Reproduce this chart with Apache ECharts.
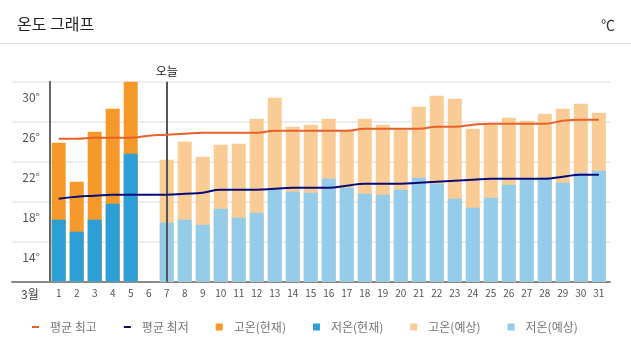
<!DOCTYPE html>
<html>
<head>
<meta charset="utf-8">
<script src="https://cdn.jsdelivr.net/npm/echarts@6/dist/echarts.min.js"></script>
<style>
  html, body { margin: 0; padding: 0; background: #fff; }
  #chart { width: 631px; height: 358px; }
</style>
</head>
<body>
<div id="chart"></div>
<script>
// ---- data ----
const chartTitle = '온도 그래프';
const unitLabel = '℃';
const monthLabel = '3월';
const todayLabel = '오늘';
const todayDay = '7';
const days = ['1','2','3','4','5','6','7','8','9','10','11','12','13','14','15','16','17','18','19','20','21','22','23','24','25','26','27','28','29','30','31'];
const seriesNames = ['평균 최고', '평균 최저', '고온(현재)', '저온(현재)', '고온(예상)', '저온(예상)'];
// observed (days 1-5), day 6 missing
const highCurrent = [23.9, 20.0, 25.0, 27.3, 30.0];
const lowCurrent  = [16.2, 15.0, 16.2, 17.8, 22.8];
// forecast (days 7-31)
const highForecast = [22.2, 24.0, 22.5, 23.7, 23.8, 26.3, 28.4, 25.5, 25.7, 26.3, 25.1, 26.3, 25.7, 25.2, 27.5, 28.6, 28.3, 25.3, 25.7, 26.4, 26.1, 26.8, 27.3, 27.8, 26.9];
const lowForecast  = [15.9, 16.2, 15.7, 17.3, 16.4, 16.9, 19.3, 19.0, 18.9, 20.3, 19.4, 18.8, 18.7, 19.2, 20.4, 19.8, 18.3, 17.4, 18.4, 19.7, 20.3, 20.4, 19.9, 20.9, 21.1];
// climatological averages (days 1-31)
const avgHigh = [24.3, 24.3, 24.4, 24.4, 24.4, 24.6, 24.7, 24.8, 24.9, 24.9, 24.9, 24.9, 25.1, 25.1, 25.1, 25.1, 25.1, 25.3, 25.3, 25.3, 25.3, 25.5, 25.5, 25.7, 25.8, 25.8, 25.8, 25.8, 26.1, 26.2, 26.2];
const avgLow  = [18.3, 18.5, 18.6, 18.7, 18.7, 18.7, 18.7, 18.8, 18.9, 19.2, 19.2, 19.2, 19.3, 19.4, 19.4, 19.4, 19.6, 19.8, 19.8, 19.8, 19.9, 20.0, 20.1, 20.2, 20.3, 20.3, 20.3, 20.3, 20.5, 20.7, 20.7];
const yMin = 10, yMax = 30, yStep = 2, yLabelStep = 4;

// ---- build full-length arrays ----
const pad = (arr, start) => days.map((d, i) => {
  const k = i - start;
  return (k >= 0 && k < arr.length) ? arr[k] : '-';
});
const hiCurFull = pad(highCurrent, 0);
const loCurFull = pad(lowCurrent, 0);
const hiFcFull = pad(highForecast, 6);
const loFcFull = pad(lowForecast, 6);

const FONT = '"Noto Sans CJK KR", "Noto Sans", sans-serif';
const chart = echarts.init(document.getElementById('chart'), null, { renderer: 'canvas' });

const barCommon = { type: 'bar', xAxisIndex: 1, yAxisIndex: 1, barWidth: 14, barGap: '-100%', silent: true };
const dashIcon = 'path://M0,0h7v2h-7z';

chart.setOption({
  animation: false,
  textStyle: { fontFamily: FONT },
  title: [
    { text: chartTitle, left: 12, top: 11, textStyle: { fontSize: 16, fontWeight: 'normal', color: '#222', fontFamily: FONT } },
    { text: unitLabel, right: 11, top: 13, textStyle: { fontSize: 14, fontWeight: 'normal', color: '#333', fontFamily: FONT } },
    { text: monthLabel, left: 16, top: 283, textStyle: { fontSize: 12, fontWeight: 'normal', color: '#444', fontFamily: FONT } }
  ],
  graphic: [
    { type: 'rect', left: 0, top: 43, shape: { width: 631, height: 1 }, style: { fill: '#dddddd' }, silent: true }
  ],
  legend: {
    left: 27, top: 316,
    itemWidth: 7, itemHeight: 7, itemGap: 27,
    textStyle: { fontSize: 12, color: '#777', padding: [0, 0, 0, 6], fontFamily: FONT },
    data: [
      { name: seriesNames[0], icon: dashIcon },
      { name: seriesNames[1], icon: dashIcon },
      { name: seriesNames[2], icon: 'rect' },
      { name: seriesNames[3], icon: 'rect' },
      { name: seriesNames[4], icon: 'rect' },
      { name: seriesNames[5], icon: 'rect' }
    ]
  },
  grid: [
    { left: 12, right: 21, top: 81.7, bottom: 76.3 },
    { left: 49.7, right: 23.2, top: 81.7, bottom: 76.3 }
  ],
  xAxis: [
    { gridIndex: 0, type: 'value', min: 0, max: 1,
      axisLine: { show: true, lineStyle: { color: '#888', width: 2 } },
      axisTick: { show: false }, axisLabel: { show: false }, splitLine: { show: false } },
    { gridIndex: 1, type: 'category', data: days,
      axisLine: { show: false }, axisTick: { show: false },
      axisLabel: { fontSize: 10, color: '#555', margin: 7, interval: 0, fontFamily: FONT } }
  ],
  yAxis: [
    { gridIndex: 0, type: 'value', min: yMin, max: yMax, interval: yStep,
      axisLine: { show: false }, axisTick: { show: false },
      splitLine: { show: true, lineStyle: { color: ['#eeeeee', 'rgba(0,0,0,0)'], width: 2 } },
      axisLabel: {
        inside: true, margin: 28, align: 'right', verticalAlign: 'top', lineHeight: 31,
        fontSize: 12, color: '#555', fontFamily: FONT,
        formatter: v => (v > yMin && (v - yMin) % yLabelStep === 0) ? v + '°' : ''
      } },
    { gridIndex: 1, type: 'value', min: yMin, max: yMax,
      axisLine: { show: true, lineStyle: { color: '#666', width: 2 } },
      axisTick: { show: false }, axisLabel: { show: false }, splitLine: { show: false } }
  ],
  series: [
    { name: seriesNames[0], type: 'line', xAxisIndex: 1, yAxisIndex: 1, data: avgHigh, smooth: true,
      symbol: 'none', lineStyle: { color: '#e8612a', width: 2 }, itemStyle: { color: '#e8612a' }, z: 5 },
    { name: seriesNames[1], type: 'line', xAxisIndex: 1, yAxisIndex: 1, data: avgLow, smooth: true,
      symbol: 'none', lineStyle: { color: '#0b0b78', width: 2 }, itemStyle: { color: '#0b0b78' }, z: 5 },
    Object.assign({}, barCommon, { name: seriesNames[2], data: hiCurFull, itemStyle: { color: '#f5992b' } }),
    Object.assign({}, barCommon, { name: seriesNames[3], data: loCurFull, itemStyle: { color: '#2d9fd7' } }),
    Object.assign({}, barCommon, { name: seriesNames[4], data: hiFcFull, itemStyle: { color: '#f9cc95' },
      markLine: {
        silent: true, symbol: 'none',
        lineStyle: { color: '#555', width: 2, type: 'solid' },
        label: { show: true, position: 'end', formatter: todayLabel, fontSize: 12, color: '#222', fontFamily: FONT, distance: 4 },
        data: [{ xAxis: todayDay }]
      } }),
    Object.assign({}, barCommon, { name: seriesNames[5], data: loFcFull, itemStyle: { color: '#95cce9' } })
  ]
});
</script>
</body>
</html>
